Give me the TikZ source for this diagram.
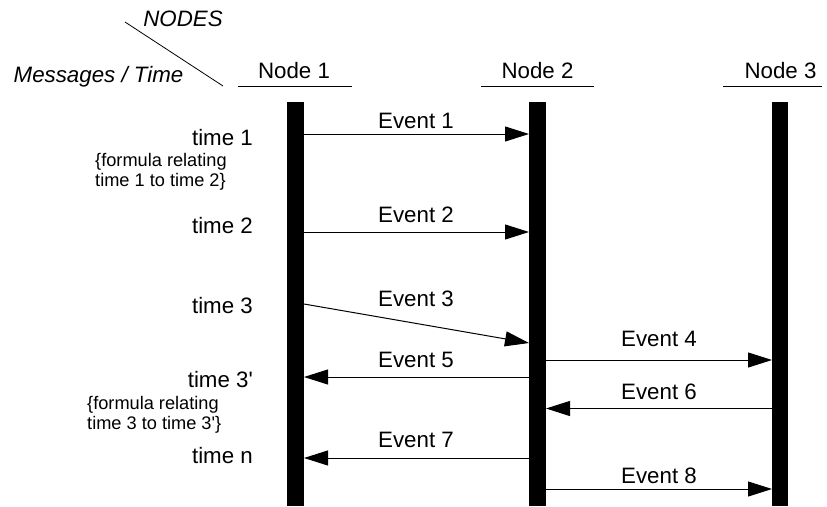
\documentclass[tikz,border=0pt]{standalone}
\usepackage{fontspec}
\setmainfont{Liberation Sans}
\usetikzlibrary{arrows.meta}
\tikzset{
  lbl/.style={inner sep=0pt, anchor=base, font=\fontsize{22.3}{25}\selectfont},
  tlbl/.style={inner sep=0pt, anchor=base east, font=\fontsize{22.3}{25}\selectfont},
  hdr/.style={inner sep=0pt, anchor=base, font=\fontsize{22.3}{25}\selectfont\itshape},
  formula/.style={inner sep=0pt, anchor=base west, font=\fontsize{18.2}{20}\selectfont},
  lifeline/.style={fill=black, draw=none, inner sep=0pt, minimum width=16.5pt, minimum height=404pt},
  msg/.style={line width=1pt, -{Triangle[length=24pt,width=15pt]}},
  uline/.style={line width=1pt}
}
\begin{document}
\begin{tikzpicture}[x=1pt,y=-1pt]
\useasboundingbox[fill=white] (0,0) rectangle (827,506);
% header
\coordinate (dA) at (125,22);
\coordinate (dB) at (223,86);
\draw[line width=0.8pt] (dA) -- (dB);
\node[hdr] (hnodes) at (183,27) {NODES};
\node[hdr] (hmsg) at (98.5,82) {Messages / Time};
% node titles
\node[lbl] (t1) at (294,78) {Node 1};
\node[lbl] (t2) at (537.5,78) {Node 2};
\node[lbl] (t3) at (780.5,78) {Node 3};
\coordinate (u1a) at (238,86); \coordinate (u1b) at (352,86);
\coordinate (u2a) at (481,86); \coordinate (u2b) at (594,86);
\coordinate (u3a) at (723,86); \coordinate (u3b) at (822,86);
\draw[uline] (u1a) -- (u1b);
\draw[uline] (u2a) -- (u2b);
\draw[uline] (u3a) -- (u3b);
% lifelines
\node[lifeline] (b1) at (295.5,304) {};
\node[lifeline] (b2) at (537.5,304) {};
\node[lifeline] (b3) at (780,304) {};
% event endpoints
\coordinate (e1s) at (304,134); \coordinate (e1e) at (529,134);
\coordinate (e2s) at (304,232); \coordinate (e2e) at (529,232);
\coordinate (e3s) at (304,304); \coordinate (e3e) at (529,343);
\coordinate (e4s) at (546,360); \coordinate (e4e) at (772,360);
\coordinate (e5s) at (529,377); \coordinate (e5e) at (304,377);
\coordinate (e6s) at (772,408.5); \coordinate (e6e) at (546,408.5);
\coordinate (e7s) at (529,458); \coordinate (e7e) at (304,458);
\coordinate (e8s) at (546,489); \coordinate (e8e) at (772,489);
\draw[msg] (e1s) -- (e1e);
\draw[msg] (e2s) -- (e2e);
\draw[msg] (e3s) -- (e3e);
\draw[msg] (e4s) -- (e4e);
\draw[msg] (e5s) -- (e5e);
\draw[msg] (e6s) -- (e6e);
\draw[msg] (e7s) -- (e7e);
\draw[msg] (e8s) -- (e8e);
% event labels
\node[lbl] (l1) at (416,128) {Event 1};
\node[lbl] (l2) at (416,222) {Event 2};
\node[lbl] (l3) at (416,306) {Event 3};
\node[lbl] (l4) at (659,346) {Event 4};
\node[lbl] (l5) at (416,367) {Event 5};
\node[lbl] (l6) at (659,399) {Event 6};
\node[lbl] (l7) at (416,447) {Event 7};
\node[lbl] (l8) at (659,483) {Event 8};
% time labels
\node[tlbl] (tm1) at (253,145) {time 1};
\node[tlbl] (tm2) at (253,233) {time 2};
\node[tlbl] (tm3) at (253,313) {time 3};
\node[tlbl] (tm3p) at (253,387) {time 3\textquotesingle};
\node[tlbl] (tmn) at (253,463) {time n};
\node[formula] (f1a) at (95,166) {\{formula relating};
\node[formula] (f1b) at (95,186) {time 1 to time 2\}};
\node[formula] (f2a) at (87,409) {\{formula relating};
\node[formula] (f2b) at (87,429) {time 3 to time 3\textquotesingle\}};
\end{tikzpicture}
\end{document}
